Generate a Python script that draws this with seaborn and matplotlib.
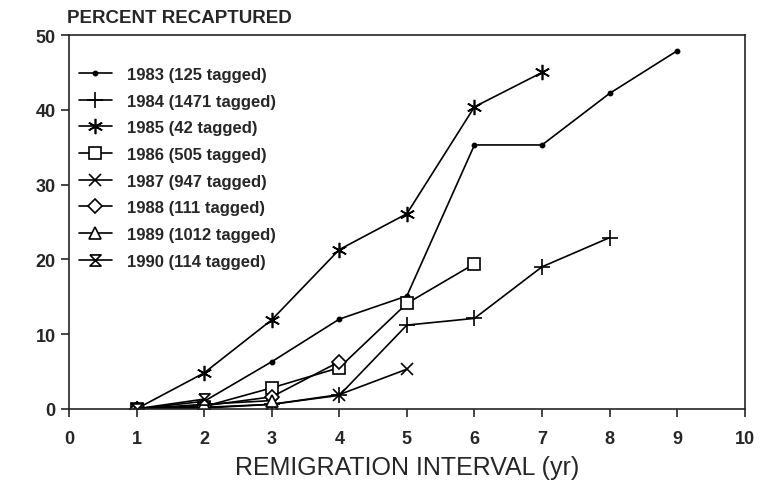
import matplotlib
matplotlib.use('Agg')
import matplotlib.pyplot as plt
import numpy as np
import seaborn as sns
import pandas as pd

# valori
intervals = [1, 2, 3, 4, 5, 6, 7, 8, 9]
labels = ['1983 (125 tagged)', '1984 (1471 tagged)', '1985 (42 tagged)',
          '1986 (505 tagged)', '1987 (947 tagged)', '1988 (111 tagged)',
          '1989 (1012 tagged)', '1990 (114 tagged)']
y1983 = [0, 1.0, 6.3, 12.0, 15.1, 35.3, 35.3, 42.2, 47.9]
y1984 = [0, 0.2, 0.6, 1.8, 11.2, 12.1, 19.0, 22.9]
y1985 = [0, 4.8, 11.9, 21.3, 26.1, 40.4, 45.0]
y1986 = [0, 0.3, 2.8, 5.5, 14.1, 19.4]
y1987 = [0, 0.1, 0.6, 1.9, 5.3]
y1988 = [0, 0.4, 1.6, 6.3]
y1989 = [0, 0.6, 1.1]
y1990 = [0, 1.3]

series = [y1983, y1984, y1985, y1986, y1987, y1988, y1989, y1990]

hourglass = [(-1, 1), (1, 1), (-1, -1), (1, -1), (-1, 1)]
markers = ['o', '+', (6, 2, 0), 's', 'x', 'D', '^', hourglass]
msizes = [3, 11, 11, 8, 9, 7, 8, 8]
faces = ['black', 'white', 'white', 'white', 'white', 'white', 'white', 'white']

sns.set_style('ticks')
plt.rcParams['font.family'] = ['Liberation Sans', 'DejaVu Sans']

fig = plt.figure(figsize=(7.75, 4.81), dpi=100)
ax = fig.add_axes([0.089, 0.148, 0.872, 0.777])

for lab, ys, mk, ms, fc in zip(labels, series, markers, msizes, faces):
    df = pd.DataFrame({'x': intervals[:len(ys)], 'y': ys})
    sns.lineplot(data=df, x='x', y='y', ax=ax, color='black', linewidth=1.2,
                 marker=mk, markersize=ms, markerfacecolor=fc,
                 markeredgecolor='black', markeredgewidth=1.2, label=lab)

ax.set_xlim(0, 10)
ax.set_ylim(0, 50)
ax.set_xticks(range(0, 11))
ax.set_yticks(range(0, 51, 10))
for s in ax.spines.values():
    s.set_linewidth(1.2)
    s.set_visible(True)
ax.tick_params(direction='out', length=6, width=1.2, labelsize=13)
ax.tick_params(axis='x', pad=9)
for t in ax.get_xticklabels() + ax.get_yticklabels():
    t.set_fontweight('bold')

ax.set_xlabel('REMIGRATION INTERVAL (yr)', fontsize=18, labelpad=6)
ax.set_ylabel('')
fig.text(0.087, 0.943, 'PERCENT RECAPTURED', fontsize=13.5, fontweight='bold',
         ha='left', va='bottom')

leg = ax.legend(loc='upper left', frameon=False, prop={'weight': 'bold', 'size': 12},
                handlelength=2.0, handletextpad=0.9, labelspacing=0.7,
                bbox_to_anchor=(-0.008, 0.955))

plt.savefig('out.png', dpi=100)
plt.close()
